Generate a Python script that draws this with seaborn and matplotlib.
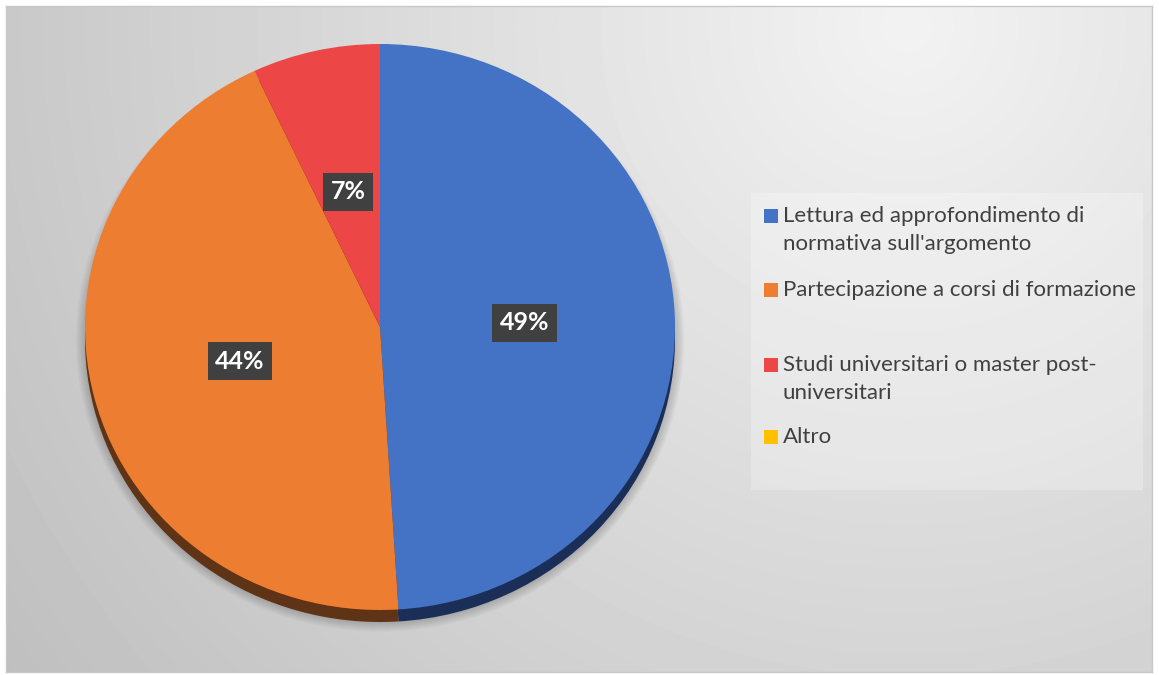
import numpy as np
import seaborn as sns
import matplotlib.pyplot as plt
from matplotlib.patches import Rectangle, Ellipse

# data
categories = ["Lettura ed approfondimento di\nnormativa sull'argomento",
              "Partecipazione a corsi di formazione",
              "Studi universitari o master post-\nuniversitari",
              "Altro"]
values = [49, 44, 7, 0]
colors = ["#4472C4", "#ED7D31", "#EC4646", "#FFC000"]
side_colors = ["#1B2E57", "#5F3315", "#6A1E1E", "#806000"]

sns.set_theme(style="white")
plt.rcParams['font.family'] = ['Lato', 'DejaVu Sans']

W, H = 1159, 675
fig = plt.figure(figsize=(W / 100, H / 100), dpi=100, facecolor="white")

# background with radial gradient
bg = fig.add_axes([6 / W, 3 / H, 1146 / W, 666 / H])
yy, xx = np.mgrid[0:666, 0:1146]
d = np.sqrt((xx - 900) ** 2 + (yy - 20) ** 2) / 1100
shade = np.clip(0.95 - 0.2 * d, 0, 1)
bg.imshow(shade, cmap="gray", vmin=0, vmax=1, aspect="auto", interpolation="bilinear")
bg.set_xticks([])
bg.set_yticks([])
for s in bg.spines.values():
    s.set_color("#c8c8c8")
    s.set_linewidth(1)

# pie axes covering the figure, 1 unit = radius (295 px wide, 283 px tall)
cx, cy, rx, ry = 380, 327, 295, 283
ax = fig.add_axes([0, 0, 1, 1])
ax.patch.set_alpha(0)

# soft shadow
for k in range(10):
    ax.add_patch(Ellipse((0.0, -0.045), 2.0 + 0.007 * k, 2.0 + 0.007 * k,
                         color="black", alpha=0.018, lw=0, zorder=0))

depth = 12 / ry
# pie side (depth)
ax.pie(values, colors=side_colors, startangle=90, counterclock=False,
       center=(0, -depth), wedgeprops=dict(linewidth=0))

def fmt(p):
    return f"{p:.0f}%" if p > 0.5 else ""

wedges, texts, autotexts = ax.pie(values, colors=colors, startangle=90, counterclock=False,
                                  autopct=fmt, pctdistance=0.49,
                                  wedgeprops=dict(linewidth=0),
                                  textprops=dict(color="white", fontsize=18, fontweight="bold"))
for t in autotexts:
    t.set_bbox(dict(boxstyle="square,pad=0.3", fc="#404040", ec="none"))

ax.set_aspect("auto")
ax.set_xlim(-cx / rx, (W - cx) / rx)
ax.set_ylim(-(H - cy) / ry, cy / ry)
ax.axis("off")

# legend
def fx(px):
    return px / W

def fy(py):
    return 1 - py / H

ax.add_patch(Rectangle((fx(751), fy(490)), fx(1143) - fx(751), fy(193) - fy(490),
                       transform=fig.transFigure, fc="white", alpha=0.25, ec="none"))
legend_y = [216, 290, 365, 437]
for name, col, py in zip(categories, colors, legend_y):
    ax.add_patch(Rectangle((fx(764), fy(py + 7)), fx(778) - fx(764), fy(py - 7) - fy(py + 7),
                           transform=fig.transFigure, fc=col, ec="none"))
    for i, line in enumerate(name.split("\n")):
        fig.text(fx(783), fy(py + 28 * i), line, color="#404040", fontsize=16,
                 va="center", ha="left")

fig.savefig("out.png", dpi=100, facecolor="white")
